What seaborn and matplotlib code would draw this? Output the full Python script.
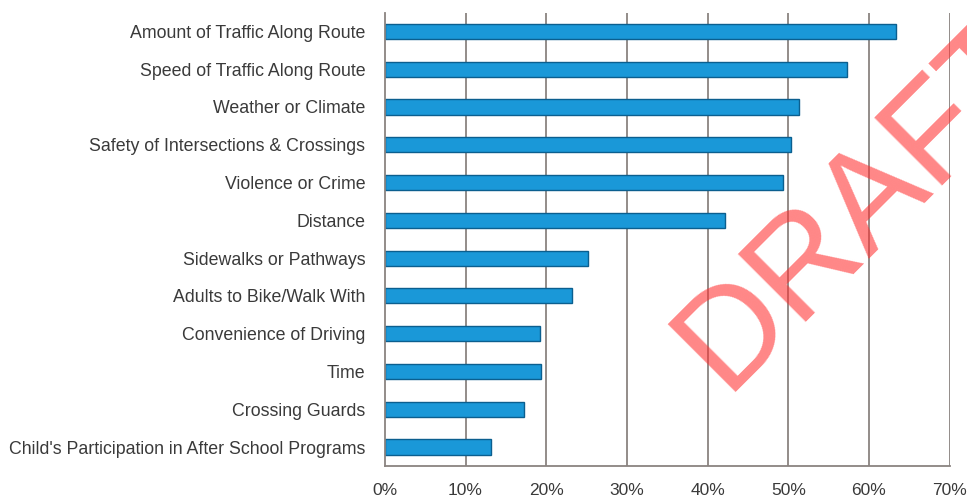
import pandas as pd
import seaborn as sns
import matplotlib.pyplot as plt
from matplotlib.ticker import FuncFormatter

# survey answers (percent)
factors = [
    "Amount of Traffic Along Route",
    "Speed of Traffic Along Route",
    "Weather or Climate",
    "Safety of Intersections & Crossings",
    "Violence or Crime",
    "Distance",
    "Sidewalks or Pathways",
    "Adults to Bike/Walk With",
    "Convenience of Driving",
    "Time",
    "Crossing Guards",
    "Child's Participation in After School Programs",
]
percent = [63.3, 57.3, 51.3, 50.3, 49.3, 42.2, 25.2, 23.2, 19.2, 19.3, 17.2, 13.2]
xticks = [0, 10, 20, 30, 40, 50, 60, 70]

df = pd.DataFrame({"factor": factors, "percent": percent})

sns.set_style("white")
plt.rcParams["font.family"] = ["Liberation Sans", "DejaVu Sans"]

fig = plt.figure(figsize=(9.67, 5.01), dpi=100)
ax = fig.add_axes([0.398, 0.07, 0.584, 0.905])

# gridlines behind the bars
for t in xticks[1:]:
    ax.axvline(t, color="#8a8380", linewidth=1.3, zorder=0)

sns.barplot(data=df, x="percent", y="factor", ax=ax, orient="h",
            color="#1a98d8", saturation=1, width=0.4,
            edgecolor="#0b5f8f", linewidth=1.0, zorder=2)

ax.set_xlim(0, 70)
ax.set_xticks(xticks)
ax.xaxis.set_major_formatter(FuncFormatter(lambda v, p: "{:.0f}%".format(v)))
ax.set_xlabel("")
ax.set_ylabel("")
ax.tick_params(axis="y", labelsize=12.8, colors="#3a3a3a", length=0, pad=14)
ax.tick_params(axis="x", labelsize=12.5, colors="#3a3a3a", length=0, pad=12)

for s in ["top", "right"]:
    ax.spines[s].set_visible(False)
for s in ["left", "bottom"]:
    ax.spines[s].set_color("#8a8380")
    ax.spines[s].set_linewidth(1.3)

# watermark, runs off the right edge like the original
fig.text(0.749, 0.219, "DRAFT", color="#ff3030", alpha=0.58, fontsize=100,
         rotation=45, rotation_mode="anchor", ha="left", va="baseline",
         family=["Liberation Sans", "DejaVu Sans"], zorder=10)

plt.savefig("out.png", dpi=100)
